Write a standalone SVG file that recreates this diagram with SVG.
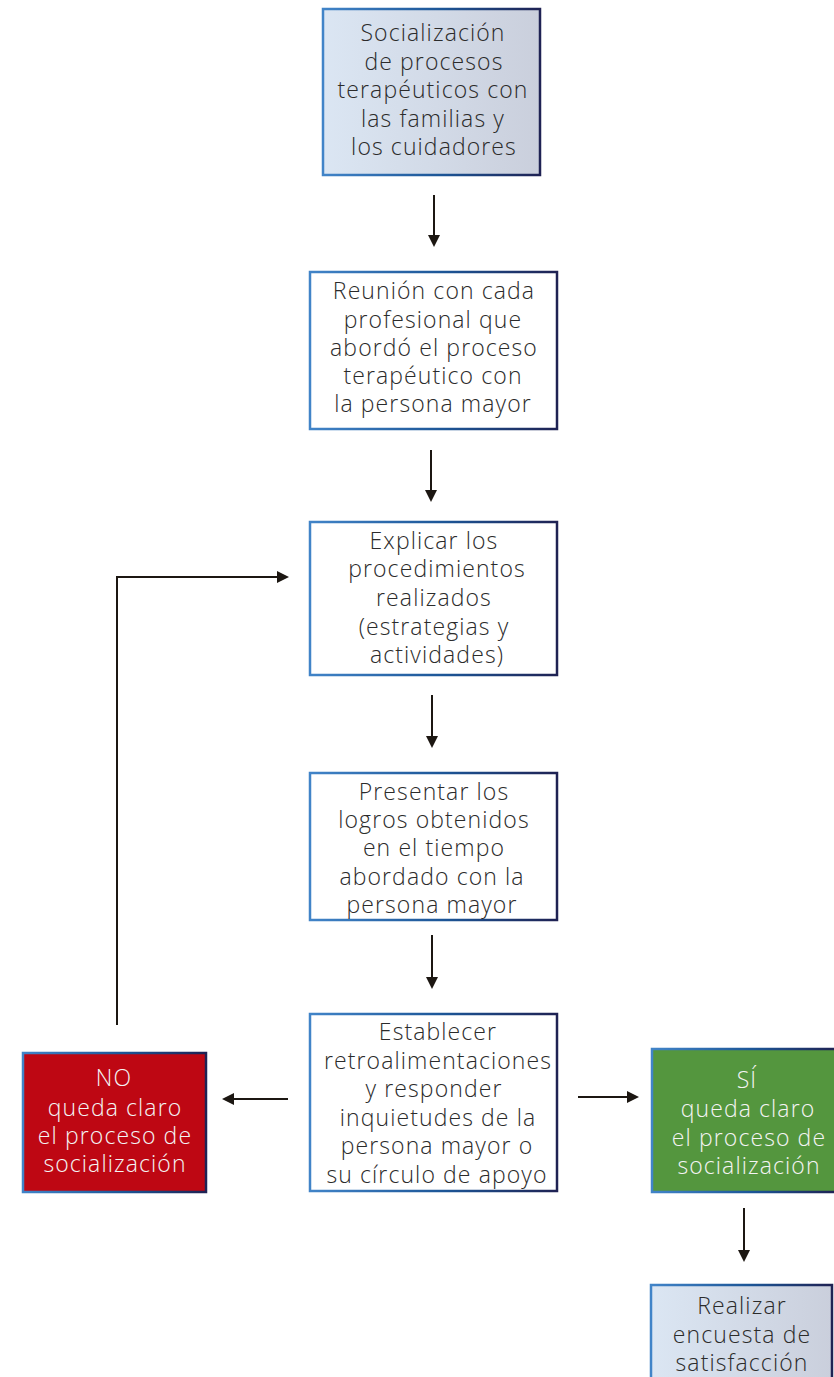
<svg xmlns="http://www.w3.org/2000/svg" width="834" height="1377" viewBox="0 0 834 1377">
<defs>
<linearGradient id="bord" x1="0" y1="0" x2="1" y2="0">
<stop offset="0" stop-color="#4184c8"/>
<stop offset="0.55" stop-color="#1c5596"/>
<stop offset="1" stop-color="#1f2253"/>
</linearGradient>
<linearGradient id="pale" x1="0" y1="0" x2="1" y2="0">
<stop offset="0" stop-color="#dbe6f3"/>
<stop offset="1" stop-color="#cacfdc"/>
</linearGradient>
<marker id="ah" markerWidth="12" markerHeight="12" refX="10" refY="6" orient="auto" markerUnits="userSpaceOnUse">
<path d="M0,0 L12,6 L0,12 z" fill="#1c1712"/>
</marker>
</defs>
<style>
.box{stroke:url(#bord);stroke-width:2.5}
.t{font-family:"Open Sans","Liberation Sans",sans-serif;font-weight:300;font-size:23px;letter-spacing:1.1px;fill:#2b2b2b;text-anchor:middle}
.w{fill:#f4f4f4}
.c{fill:none;stroke:#1c1712;stroke-width:2;marker-end:url(#ah)}
</style>
<rect width="834" height="1377" fill="#ffffff"/>
<g id="connectors">
<line class="c" x1="434" y1="195" x2="434" y2="245"/>
<line class="c" x1="431" y1="450" x2="431" y2="500"/>
<line class="c" x1="432" y1="695" x2="432" y2="746"/>
<line class="c" x1="432" y1="935" x2="432" y2="987"/>
<line class="c" x1="288" y1="1099" x2="224" y2="1099"/>
<line class="c" x1="578" y1="1097" x2="637" y2="1097"/>
<line class="c" x1="744" y1="1208" x2="744" y2="1260"/>
<polyline class="c" points="117,1025 117,577 287,577"/>
</g>
<g id="n1">
<rect class="box" x="323" y="9" width="217" height="166" fill="url(#pale)"/>
<text class="t" x="433" y="41">Socialización</text>
<text class="t" x="434" y="70">de procesos</text>
<text class="t" x="433" y="98">terapéuticos con</text>
<text class="t" x="433" y="127">las familias y</text>
<text class="t" x="434" y="155">los cuidadores</text>
</g>
<g id="n2">
<rect class="box" x="310" y="272" width="247" height="157" fill="#ffffff"/>
<text class="t" x="434" y="299">Reunión con cada</text>
<text class="t" x="433" y="328">profesional que</text>
<text class="t" x="434" y="356">abordó el proceso</text>
<text class="t" x="433" y="384">terapéutico con</text>
<text class="t" x="433" y="412">la persona mayor</text>
</g>
<g id="n3">
<rect class="box" x="310" y="522" width="247" height="153" fill="#ffffff"/>
<text class="t" x="434" y="549">Explicar los</text>
<text class="t" x="437" y="577">procedimientos</text>
<text class="t" x="434" y="606">realizados</text>
<text class="t" x="434" y="635">(estrategias y</text>
<text class="t" x="437" y="663">actividades)</text>
</g>
<g id="n4">
<rect class="box" x="310" y="773" width="247" height="147" fill="#ffffff"/>
<text class="t" x="434" y="800">Presentar los</text>
<text class="t" x="434" y="828">logros obtenidos</text>
<text class="t" x="434" y="856">en el tiempo</text>
<text class="t" x="432" y="885">abordado con la</text>
<text class="t" x="432" y="913">persona mayor</text>
</g>
<g id="n5">
<rect class="box" x="310" y="1014" width="247" height="177" fill="#ffffff"/>
<text class="t" x="438" y="1040">Establecer</text>
<text class="t" x="438" y="1069">retroalimentaciones</text>
<text class="t" x="434" y="1097">y responder</text>
<text class="t" x="438" y="1126">inquietudes de la</text>
<text class="t" x="437" y="1154">persona mayor o</text>
<text class="t" x="437" y="1183">su círculo de apoyo</text>
</g>
<g id="no">
<rect class="box" x="23" y="1053" width="183" height="139" fill="#be0713"/>
<text class="t w" x="114" y="1086">NO</text>
<text class="t w" x="115" y="1116">queda claro</text>
<text class="t w" x="115" y="1144">el proceso de</text>
<text class="t w" x="115" y="1172">socialización</text>
</g>
<g id="si">
<rect class="box" x="652" y="1049" width="184" height="143" fill="#54963e"/>
<text class="t w" x="747" y="1088">SÍ</text>
<text class="t w" x="748" y="1117">queda claro</text>
<text class="t w" x="749" y="1146">el proceso de</text>
<text class="t w" x="749" y="1174">socialización</text>
</g>
<g id="n6">
<rect class="box" x="651" y="1285" width="181" height="100" fill="url(#pale)"/>
<text class="t" x="742" y="1314">Realizar</text>
<text class="t" x="742" y="1343">encuesta de</text>
<text class="t" x="742" y="1371">satisfacción</text>
</g>
</svg>
